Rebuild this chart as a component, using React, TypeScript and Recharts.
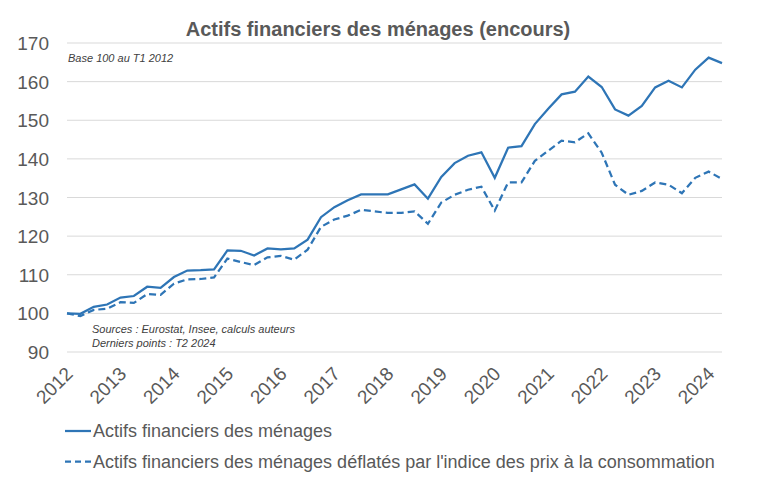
import React from 'react';
import { LineChart, Line, XAxis, YAxis, CartesianGrid } from 'recharts';

const years = ['2012','2013','2014','2015','2016','2017','2018','2019','2020','2021','2022','2023','2024'];
const quartersPerYear = ['T1','T2','T3','T4'];
const categories: string[] = years.flatMap((y) => quartersPerYear.map((q) => `${q} ${y}`)).slice(0, 50);

const actifs = [
  100.0, 99.9, 101.7, 102.3, 104.1, 104.5, 106.9, 106.6, 109.4, 111.1,
  111.2, 111.4, 116.3, 116.2, 115.0, 116.8, 116.6, 116.8, 119.1, 124.9,
  127.5, 129.3, 130.8, 130.8, 130.8, 132.1, 133.4, 129.7, 135.3, 138.9,
  140.8, 141.7, 135.1, 142.9, 143.3, 149.0, 153.0, 156.7, 157.4, 161.3,
  158.6, 152.8, 151.2, 153.7, 158.5, 160.2, 158.5, 163.1, 166.2, 164.8,
];
const actifsDeflates = [
  100.0, 99.3, 100.9, 101.2, 102.9, 102.7, 105.0, 104.8, 107.7, 108.8,
  108.9, 109.3, 114.2, 113.3, 112.5, 114.5, 114.9, 113.9, 116.5, 122.4,
  124.3, 125.3, 126.8, 126.4, 126.0, 126.0, 126.4, 123.2, 128.7, 130.7,
  132.0, 132.8, 126.6, 133.9, 133.9, 139.5, 142.1, 144.7, 144.3, 146.6,
  141.6, 133.3, 130.7, 131.7, 133.9, 133.3, 131.1, 135.1, 136.7, 134.8,
];
const yTicks = [90, 100, 110, 120, 130, 140, 150, 160, 170];

const seriesNames = [
  'Actifs financiers des ménages',
  "Actifs financiers des ménages déflatés par l'indice des prix à la consommation",
];

const data = categories.map((q, i) => ({ q, actifs: actifs[i], deflates: actifsDeflates[i] }));

const BLUE = '#2E75B6';
const GRAY = '#595959';
const FONT = '"Liberation Sans", Arial, sans-serif';

const XTick = (props: any) => {
  const { x, y, payload } = props;
  const label = String(payload.value).slice(3);
  const ax = x + 7;
  const ay = y + 23;
  return (
    <text x={ax} y={ay} transform={`rotate(-45 ${ax} ${ay})`} textAnchor="end" fill={GRAY} fontSize={19} fontFamily={FONT}>
      {label}
    </text>
  );
};

const YTick = (props: any) => {
  const { y, payload } = props;
  return (
    <text x={49} y={y} dy={7} textAnchor="end" fill={GRAY} fontSize={19} fontFamily={FONT}>
      {payload.value}
    </text>
  );
};

export default function App() {
  return (
    <div style={{ position: 'absolute', left: 0, top: 0, width: 757, height: 488, background: '#fff', fontFamily: FONT }}>
      <LineChart width={757} height={488} data={data} margin={{ top: 43, right: 35, left: 0, bottom: 0 }}>
        <CartesianGrid vertical={false} stroke="#d9d9d9" strokeWidth={1} />
        <XAxis dataKey="q" interval={3} axisLine={false} tickLine={false} tickSize={0} tickMargin={0} height={136} tick={<XTick />} />
        <YAxis domain={[90, 170]} ticks={yTicks} width={67} axisLine={false} tickLine={false} tick={<YTick />} />
        <Line type="linear" dataKey="actifs" name={seriesNames[0]} stroke={BLUE} strokeWidth={2.25} dot={false} isAnimationActive={false} />
        <Line type="linear" dataKey="deflates" name={seriesNames[1]} stroke={BLUE} strokeWidth={2.25} strokeDasharray="7 4" dot={false} isAnimationActive={false} />
      </LineChart>
      <svg width={757} height={488} style={{ position: 'absolute', left: 0, top: 0, pointerEvents: 'none' }}>
        <text x={378} y={36} textAnchor="middle" fontSize={20} fontWeight="bold" fill={GRAY} fontFamily={FONT}>
          Actifs financiers des ménages (encours)
        </text>
        <text x={68} y={62} fontSize={11} fontStyle="italic" fill="#404040" fontFamily={FONT}>
          Base 100 au T1 2012
        </text>
        <text x={92} y={333} fontSize={11} fontStyle="italic" fill="#404040" fontFamily={FONT}>
          Sources : Eurostat, Insee, calculs auteurs
        </text>
        <text x={92} y={347} fontSize={11} fontStyle="italic" fill="#404040" fontFamily={FONT}>
          Derniers points : T2 2024
        </text>
        <line x1={65} y1={431} x2={91} y2={431} stroke={BLUE} strokeWidth={2.25} />
        <text x={93} y={437} fontSize={18} fill={GRAY} fontFamily={FONT}>
          {seriesNames[0]}
        </text>
        <line x1={65} y1={461.5} x2={91} y2={461.5} stroke={BLUE} strokeWidth={2.25} strokeDasharray="6 4" />
        <text x={93} y={467.5} fontSize={18} fill={GRAY} fontFamily={FONT}>
          {seriesNames[1]}
        </text>
      </svg>
    </div>
  );
}
